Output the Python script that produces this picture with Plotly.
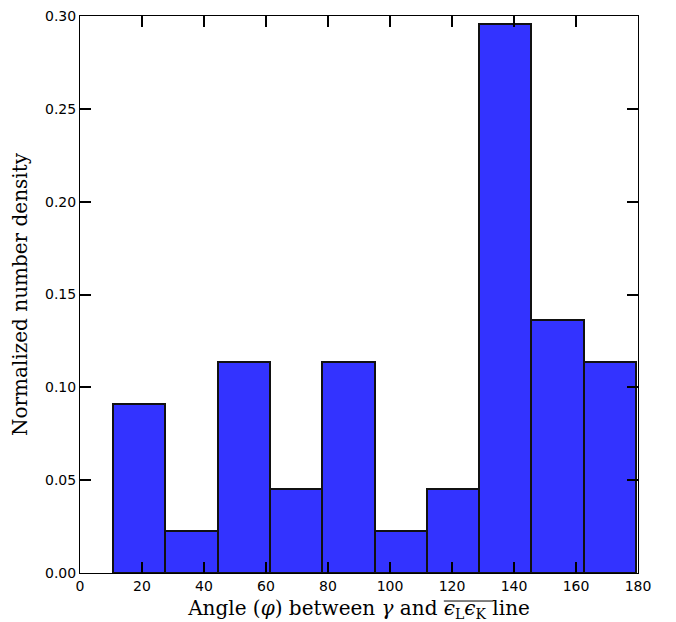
import plotly.graph_objects as go

# Histogram data (fraction of 44 objects per bin)
counts = [4, 1, 5, 2, 5, 1, 2, 13, 6, 5]
total = 44
bin_start = 10.6
bin_end = 179.4
n_bins = len(counts)
bin_width = (bin_end - bin_start) / n_bins
centers = [bin_start + bin_width * (i + 0.5) for i in range(n_bins)]
density = [c / total for c in counts]

x_ticks = [0, 20, 40, 60, 80, 100, 120, 140, 160, 180]
y_ticks = [0.00, 0.05, 0.10, 0.15, 0.20, 0.25, 0.30]

fig = go.Figure()
fig.add_trace(go.Bar(
    x=centers, y=density, width=[bin_width] * n_bins,
    marker=dict(color="#3333ff", line=dict(color="#111111", width=2)),
))

fig.update_layout(
    width=676, height=622,
    margin=dict(l=80, r=38, t=16, b=49),
    plot_bgcolor="white", paper_bgcolor="white",
    showlegend=False,
    font=dict(family="DejaVu Sans", size=14, color="black"),
    bargap=0,
)
fig.update_xaxes(
    range=[0, 180], tickvals=x_ticks, ticks="inside", ticklen=11, tickwidth=2,
    tickcolor="black", showline=True, linecolor="black", linewidth=1, mirror="ticks",
    showgrid=False, zeroline=False, automargin=False,
    title=dict(text="Angle (<i>φ</i>) between <i>γ</i> and <i>ϵ</i><sub>L</sub><i>ϵ</i><sub>K</sub> line",
               font=dict(family="DejaVu Serif", size=20), standoff=11),
)
fig.update_yaxes(
    range=[0, 0.30], tickvals=y_ticks, tickformat=".2f", ticks="inside", ticklen=11, tickwidth=2,
    tickcolor="black", showline=True, linecolor="black", linewidth=1, mirror="ticks",
    showgrid=False, zeroline=False, automargin=False,
    title=dict(text="Normalized number density", font=dict(family="DejaVu Serif", size=20), standoff=12),
)

# overline above the εLεK segment of the x-axis title
fig.add_shape(type="line", xref="paper", yref="paper",
              x0=0.652, x1=0.741, y0=-0.0503, y1=-0.0503,
              line=dict(color="black", width=1))

fig.write_html("out.html", config={"displayModeBar": False},
               post_script="document.body.style.margin='0';")
